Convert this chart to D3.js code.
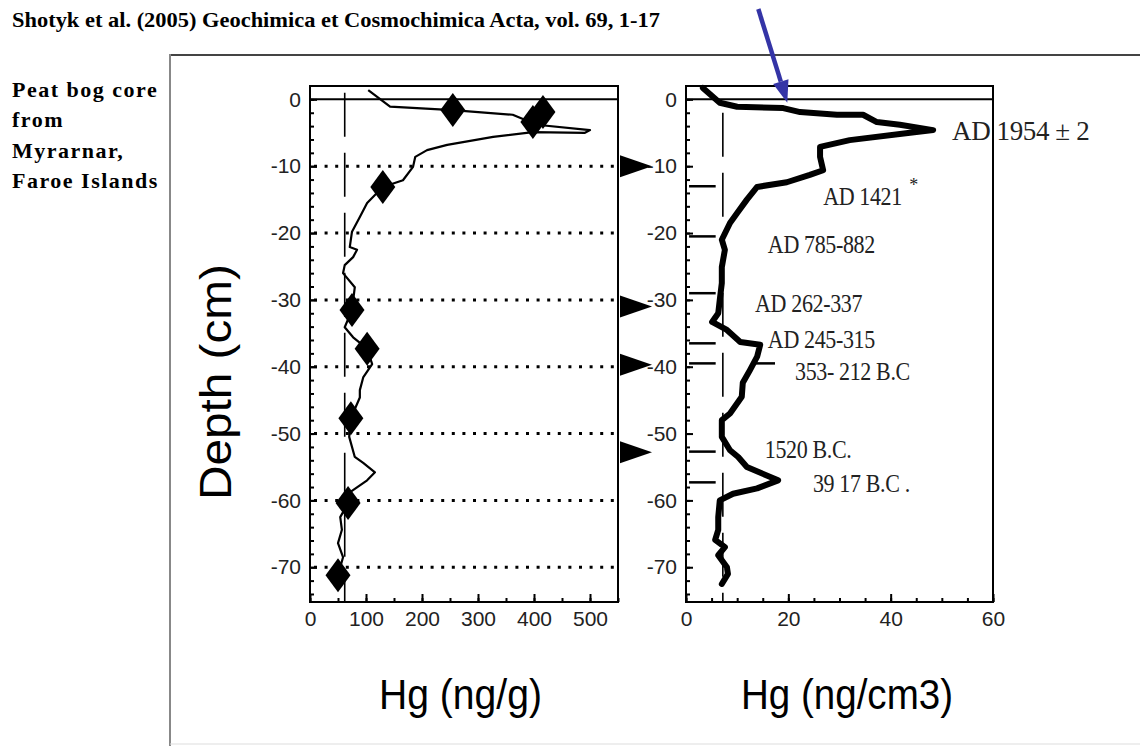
<!DOCTYPE html>
<html>
<head>
<meta charset="utf-8">
<script src="https://cdn.jsdelivr.net/npm/d3@7"></script>
<style>
  body { margin: 0; background: #fff; }
  svg { display: block; }
</style>
</head>
<body>
<svg id="chart" width="1140" height="746"></svg>
<script>
// tick values
const yTicks = [0, -10, -20, -30, -40, -50, -60, -70];
const leftTicks = [0, 100, 200, 300, 400, 500];
const rightTicks = [0, 20, 40, 60];

// Hg (ng/g) profile
const hgDepth = [1.4, -1.1, -1.6, -2.3, -3.8, -4.6, -5.0, -4.9, -5.6, -6.8, -7.6, -8.6, -10.1, -12.1, -13.1, -15.5,
  -17.6, -19.8, -22.1, -22.5, -23.6, -24.8, -26, -28.1, -31.5, -34.1, -35.6, -37.3, -39.6, -41.6, -43.5, -44.6,
  -47.7, -50.5, -53.5, -54.4, -55.8, -57, -58.8, -60.4, -62.5, -64.4, -66.4, -68.5, -71.2, -72.7];
const hgConc = [104, 143, 255, 362, 405, 500, 491, 398, 327, 245, 209, 188, 184, 166, 130, 102,
  89, 75, 71, 84, 77, 62, 59, 80, 75, 62, 77, 102, 111, 95, 89, 89,
  73, 70, 80, 95, 116, 102, 71, 68, 54, 57, 50, 59, 50, 45];

// diamond samples on the left panel
const diamondDepth = [-1.6, -1.9, -3.4, -13.1, -31.5, -37.3, -47.7, -60.4, -71.2];
const diamondConc = [255, 416, 398, 130, 75, 102, 73, 68, 50];

// Hg (ng/cm3) profile
const hgvDepth = [1.7, -0.5, -1.1, -1.3, -1.9, -2.3, -2.3, -3.4, -3.8, -4.6, -5.0, -6.1, -7.1, -8.6, -10.6,
  -11.3, -12.4, -13.1, -15, -17, -18.5, -21, -22.5, -25.1, -27.5, -30, -32, -33.3, -34.5, -36.3,
  -36.7, -38.5, -40.5, -42.4, -44.5, -47, -48, -50.5, -52.5, -53.5, -55, -57, -58.2, -59, -60,
  -62.5, -64.4, -65.9, -67, -68.2, -70, -71, -72.5];
const hgvConc = [3.3, 6.6, 10, 19, 22.3, 29.5, 34.6, 37.3, 41.8, 48.3, 43.8, 32, 26.2, 26.2, 26.8,
  24.2, 19.7, 13.9, 11.9, 10, 8.6, 7, 7.6, 7, 7, 6.6, 6.3, 5.1, 8, 10.6,
  14.5, 13.9, 12.5, 11.1, 10.9, 8.6, 7, 7, 8.6, 10.2, 11.9, 18, 13.9, 9.2, 6.6,
  6.3, 6.3, 5.7, 7.6, 6.3, 8, 8.2, 7];

// background levels (long dashed verticals)
const backgroundLeft = 62;
const backgroundRight = 7.2;

// dated layers
const triangleDepth = [-10, -31, -39.7, -52.8];
const datedDepth = [-13, -20.5, -29, -36.5, -39.5, -52.7, -57.3];

// age labels on the right panel
const ageLabels = ['AD 1954 \u00b1 2', 'AD 1421', 'AD 785-882', 'AD 262-337', 'AD 245-315', '353- 212 B.C', '1520 B.C.', '39 17 B.C .'];
const ageConc = [52, 26.8, 16, 13.5, 16, 21.3, 15.4, 24.8];
const ageDepth = [-6.1, -15.8, -23, -31.8, -37.2, -42, -53.7, -58.8];

const svg = d3.select('#chart');

const y = d3.scaleLinear().domain([2, -75.2]).range([86, 602]);
const xL = d3.scaleLinear().domain([0, 550]).range([310, 618]);
const xR = d3.scaleLinear().domain([0, 60]).range([686, 993]);
const fmt = d => String(d);   // plain hyphen, as in the figure

// page frame
svg.append('line').attr('x1', 170).attr('x2', 1140).attr('y1', 55).attr('y2', 55)
  .attr('stroke', '#444').attr('stroke-width', 2);
svg.append('line').attr('x1', 170).attr('x2', 170).attr('y1', 54).attr('y2', 746)
  .attr('stroke', '#888').attr('stroke-width', 2);
svg.append('line').attr('x1', 170).attr('x2', 1140).attr('y1', 744).attr('y2', 744)
  .attr('stroke', '#ddd').attr('stroke-width', 1);

// header text
svg.append('text')
  .attr('x', 12).attr('y', 27)
  .attr('textLength', 648).attr('lengthAdjust', 'spacingAndGlyphs')
  .style('font-family', 'Liberation Serif, serif').style('font-weight', 'bold').style('font-size', '21px')
  .text('Shotyk et al. (2005) Geochimica et Cosmochimica Acta, vol. 69, 1-17');

const site = ['Peat bog core', 'from', 'Myrarnar,', 'Faroe Islands'];
svg.append('g').selectAll('text')
  .data(site)
  .join('text')
  .attr('x', 12)
  .attr('y', (d, i) => 97 + i * 30.3)
  .style('font-family', 'Liberation Serif, serif').style('font-weight', 'bold').style('font-size', '22px')
  .style('letter-spacing', '1.5px')
  .text(d => d);

function drawPanel(x, xTicks, xMinor) {
  const g = svg.append('g');
  const [x0, x1] = x.range();

  // minor depth ticks
  g.append('g').attr('transform', `translate(${x0},0)`)
    .call(d3.axisLeft(y).tickValues(d3.range(0, -75, -2)).tickSize(-4).tickFormat(''))
    .call(a => a.select('.domain').remove())
    .selectAll('line').attr('stroke-width', 2);

  // depth labels
  const ya = g.append('g').attr('transform', `translate(${x0},0)`)
    .call(d3.axisLeft(y).tickValues(yTicks).tickSize(-7).tickPadding(9).tickFormat(fmt))
    .call(a => a.select('.domain').remove());
  ya.selectAll('line').attr('stroke-width', 2);
  ya.selectAll('text').style('font-family', 'Liberation Sans, Arial, sans-serif')
    .style('font-size', '21px').attr('fill', '#222');

  // bottom axis
  g.append('g').attr('transform', `translate(0,${y.range()[1]})`)
    .call(d3.axisBottom(x).tickValues(xMinor).tickSize(-4).tickFormat(''))
    .call(a => a.select('.domain').remove())
    .selectAll('line').attr('stroke-width', 2);
  const xa = g.append('g').attr('transform', `translate(0,${y.range()[1]})`)
    .call(d3.axisBottom(x).tickValues(xTicks).tickSize(-8).tickPadding(9).tickFormat(fmt))
    .call(a => a.select('.domain').remove());
  xa.selectAll('line').attr('stroke-width', 2);
  xa.selectAll('text').style('font-family', 'Liberation Sans, Arial, sans-serif')
    .style('font-size', '21px').attr('fill', '#222');

  // zero line
  g.append('line').attr('x1', x0).attr('x2', x1).attr('y1', y(0)).attr('y2', y(0))
    .attr('stroke', '#000').attr('stroke-width', 2);

  // plot frame
  g.append('rect').attr('x', x0).attr('y', y.range()[0])
    .attr('width', x1 - x0).attr('height', y.range()[1] - y.range()[0])
    .attr('fill', 'none').attr('stroke', '#000').attr('stroke-width', 2);
  return g;
}

const left = drawPanel(xL, leftTicks, d3.range(0, 551, 50));
const right = drawPanel(xR, rightTicks, d3.range(0, 61, 5));

// dotted depth grid on the left panel
left.append('g').selectAll('line')
  .data(yTicks.filter(d => d !== 0))
  .join('line')
  .attr('x1', xL.range()[0] + 4).attr('x2', xL.range()[1])
  .attr('y1', d => y(d)).attr('y2', d => y(d))
  .attr('stroke', '#000').attr('stroke-width', 3).attr('stroke-dasharray', '3,7.6');

// background levels
left.append('line')
  .attr('x1', xL(backgroundLeft)).attr('x2', xL(backgroundLeft))
  .attr('y1', y(1)).attr('y2', y.range()[1])
  .attr('stroke', '#000').attr('stroke-width', 1.6).attr('stroke-dasharray', '44,16');
right.append('line')
  .attr('x1', xR(backgroundRight)).attr('x2', xR(backgroundRight))
  .attr('y1', y(-2)).attr('y2', y.range()[1])
  .attr('stroke', '#000').attr('stroke-width', 1.6).attr('stroke-dasharray', '44,16');

// Hg (ng/g) curve
const lineL = d3.line().x(i => xL(hgConc[i])).y(i => y(hgDepth[i]));
left.append('path')
  .attr('d', lineL(d3.range(hgDepth.length)))
  .attr('fill', 'none').attr('stroke', '#000').attr('stroke-width', 2.2).attr('stroke-linejoin', 'round');

// diamonds
left.append('g').selectAll('path')
  .data(d3.range(diamondDepth.length))
  .join('path')
  .attr('transform', i => `translate(${xL(diamondConc[i])},${y(diamondDepth[i])})`)
  .attr('d', 'M0,-17L12.5,0L0,17L-12.5,0Z')
  .attr('fill', '#000');

// dated layer markers on the right edge of the left panel
svg.append('g').selectAll('path')
  .data(triangleDepth)
  .join('path')
  .attr('transform', d => `translate(${xL.range()[1] + 2},${y(d)})`)
  .attr('d', 'M0,-11L32,0L0,11Z')
  .attr('fill', '#000');

// dated layer ticks in the right panel
right.append('g').selectAll('line')
  .data(datedDepth)
  .join('line')
  .attr('x1', xR(0.6)).attr('x2', xR(5.8))
  .attr('y1', d => y(d)).attr('y2', d => y(d))
  .attr('stroke', '#000').attr('stroke-width', 2.5);
right.append('line')
  .attr('x1', xR(13.5)).attr('x2', xR(17.4))
  .attr('y1', y(-39.5)).attr('y2', y(-39.5))
  .attr('stroke', '#000').attr('stroke-width', 2.5);

// Hg (ng/cm3) curve
const lineR = d3.line().x(i => xR(hgvConc[i])).y(i => y(hgvDepth[i]));
right.append('path')
  .attr('d', lineR(d3.range(hgvDepth.length)))
  .attr('fill', 'none').attr('stroke', '#000').attr('stroke-width', 6)
  .attr('stroke-linejoin', 'round').attr('stroke-linecap', 'round');

// age labels
const ages = svg.append('g')
  .style('font-family', 'Liberation Serif, Times New Roman, serif')
  .attr('fill', '#222');
ages.selectAll('text')
  .data(ageLabels)
  .join('text')
  .attr('transform', (d, i) => `translate(${xR(ageConc[i])},${y(ageDepth[i])}) scale(${i === 0 ? 1 : 0.88},1)`)
  .style('font-size', (d, i) => i === 0 ? '27px' : '25px')
  .style('letter-spacing', '-0.4px')
  .text(d => d);
ages.append('text')
  .attr('x', xR(ageConc[1]) + 86).attr('y', y(ageDepth[1]) - 14)
  .style('font-size', '18px')
  .text('*');

// blue arrow pointing to the 1954 horizon
const tip = [xR(19.8), y(-0.5)];
const tail = [tip[0] - 29, 9];
const ang = Math.atan2(tip[1] - tail[1], tip[0] - tail[0]);
const headLen = 22, headW = 8;
const base = [tip[0] - headLen * Math.cos(ang), tip[1] - headLen * Math.sin(ang)];
svg.append('line')
  .attr('x1', tail[0]).attr('y1', tail[1]).attr('x2', base[0]).attr('y2', base[1])
  .attr('stroke', '#3434a6').attr('stroke-width', 4.5);
svg.append('path')
  .attr('d', `M${tip[0]},${tip[1]}L${base[0] - headW * Math.sin(ang)},${base[1] + headW * Math.cos(ang)}L${base[0] + headW * Math.sin(ang)},${base[1] - headW * Math.cos(ang)}Z`)
  .attr('fill', '#3434a6');

// axis titles
const axisFont = 'Liberation Sans, Arial, sans-serif';
svg.append('text')
  .attr('x', 379).attr('y', 709)
  .attr('textLength', 163).attr('lengthAdjust', 'spacingAndGlyphs')
  .style('font-family', axisFont).style('font-size', '42px')
  .text('Hg (ng/g)');
svg.append('text')
  .attr('x', 741).attr('y', 709)
  .attr('textLength', 212).attr('lengthAdjust', 'spacingAndGlyphs')
  .style('font-family', axisFont).style('font-size', '42px')
  .text('Hg (ng/cm3)');
svg.append('text')
  .attr('transform', 'translate(231,500) rotate(-90)')
  .attr('textLength', 236).attr('lengthAdjust', 'spacingAndGlyphs')
  .style('font-family', axisFont).style('font-size', '44px')
  .text('Depth (cm)');
</script>
</body>
</html>
